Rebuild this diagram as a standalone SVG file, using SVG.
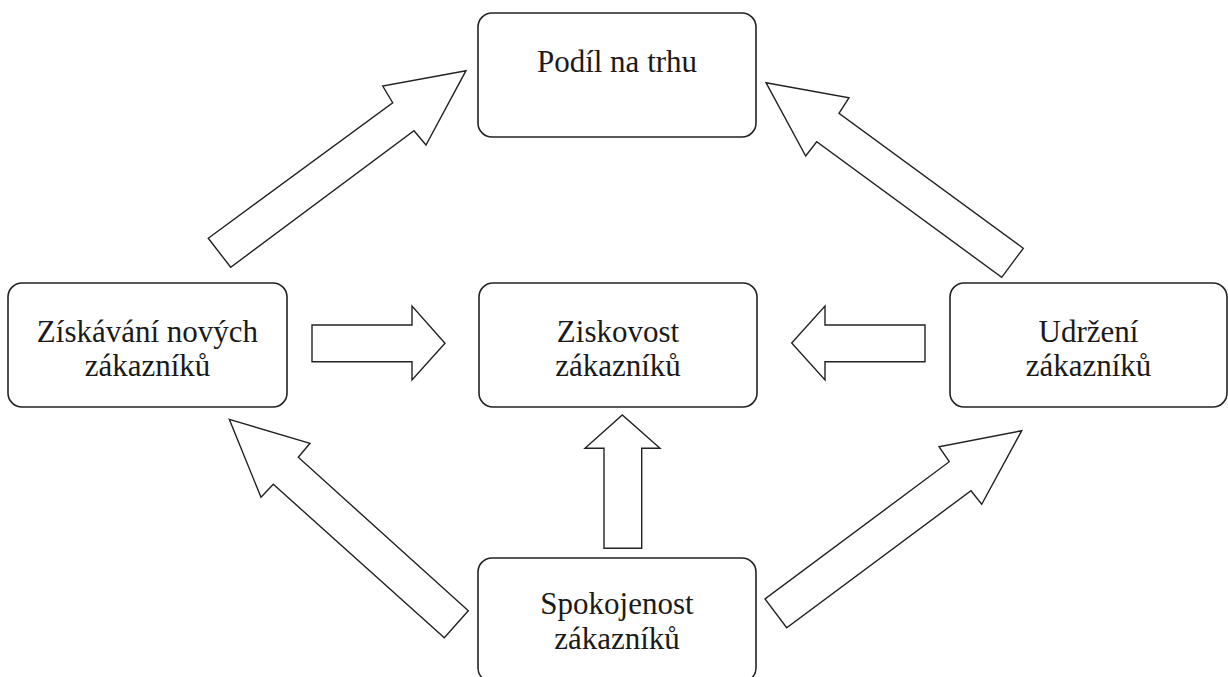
<svg xmlns="http://www.w3.org/2000/svg" width="1228" height="677" viewBox="0 0 1228 677">
<style>
.box{fill:#fff;stroke:#222;stroke-width:1.6}
.arr{fill:#fff;stroke:#222;stroke-width:1.4;stroke-linejoin:miter}
.lbl{font-family:'Liberation Serif','Times New Roman',serif;font-size:31px;fill:#1a1a1a;text-anchor:middle}
</style>
<rect width="1228" height="677" fill="#fff"/>
<g id="connectors">
<polygon class="arr" points="208.3,238.3 392.7,102.7 382.7,86 466,70.7 426,145 414,130.7 230.7,267.3"/>
<polygon class="arr" points="766,82.7 849,97.7 839,113.3 1023.3,248.3 1001.7,277.3 816.7,141.7 805.7,156"/>
<polygon class="arr" points="312,325 412,325 412,306 445,343.3 412,380 412,361.7 312,361.7"/>
<polygon class="arr" points="925,325 825,325 825,306 791.7,343 825,380 825,361.7 925,361.7"/>
<polygon class="arr" points="604,548.3 604,448.3 585,448.3 622.3,415 660,448.3 641.7,448.3 641.7,548.3"/>
<polygon class="arr" points="229.3,419.3 310,443.3 298.3,457.3 468.3,610.7 444.3,637.7 273.3,484.3 261,497.3"/>
<polygon class="arr" points="1021.7,430.7 939,446.7 949.3,461.7 765,599 786.7,627.7 971,490.7 981.7,504.3"/>
</g>
<g font-family="Liberation Serif, Times New Roman, serif">
<g id="node-podil">
<rect class="box" x="478" y="13" width="278" height="124" rx="14"/>
<text class="lbl" x="617" y="72">Podíl na trhu</text>
</g>
<g id="node-ziskavani">
<rect class="box" x="8" y="283" width="279" height="124" rx="14"/>
<text class="lbl" x="147.5" y="341.5">Získávání nových</text>
<text class="lbl" x="147.5" y="376">zákazníků</text>
</g>
<g id="node-ziskovost">
<rect class="box" x="479" y="283" width="278" height="124" rx="14"/>
<text class="lbl" x="618" y="341.5">Ziskovost</text>
<text class="lbl" x="618" y="376">zákazníků</text>
</g>
<g id="node-udrzeni">
<rect class="box" x="950" y="283" width="277" height="124" rx="14"/>
<text class="lbl" x="1088.5" y="341.5">Udržení</text>
<text class="lbl" x="1088.5" y="376">zákazníků</text>
</g>
<g id="node-spokojenost">
<rect class="box" x="478" y="558" width="278" height="124" rx="14"/>
<text class="lbl" x="617" y="614">Spokojenost</text>
<text class="lbl" x="617" y="649">zákazníků</text>
</g>
</g>
</svg>
